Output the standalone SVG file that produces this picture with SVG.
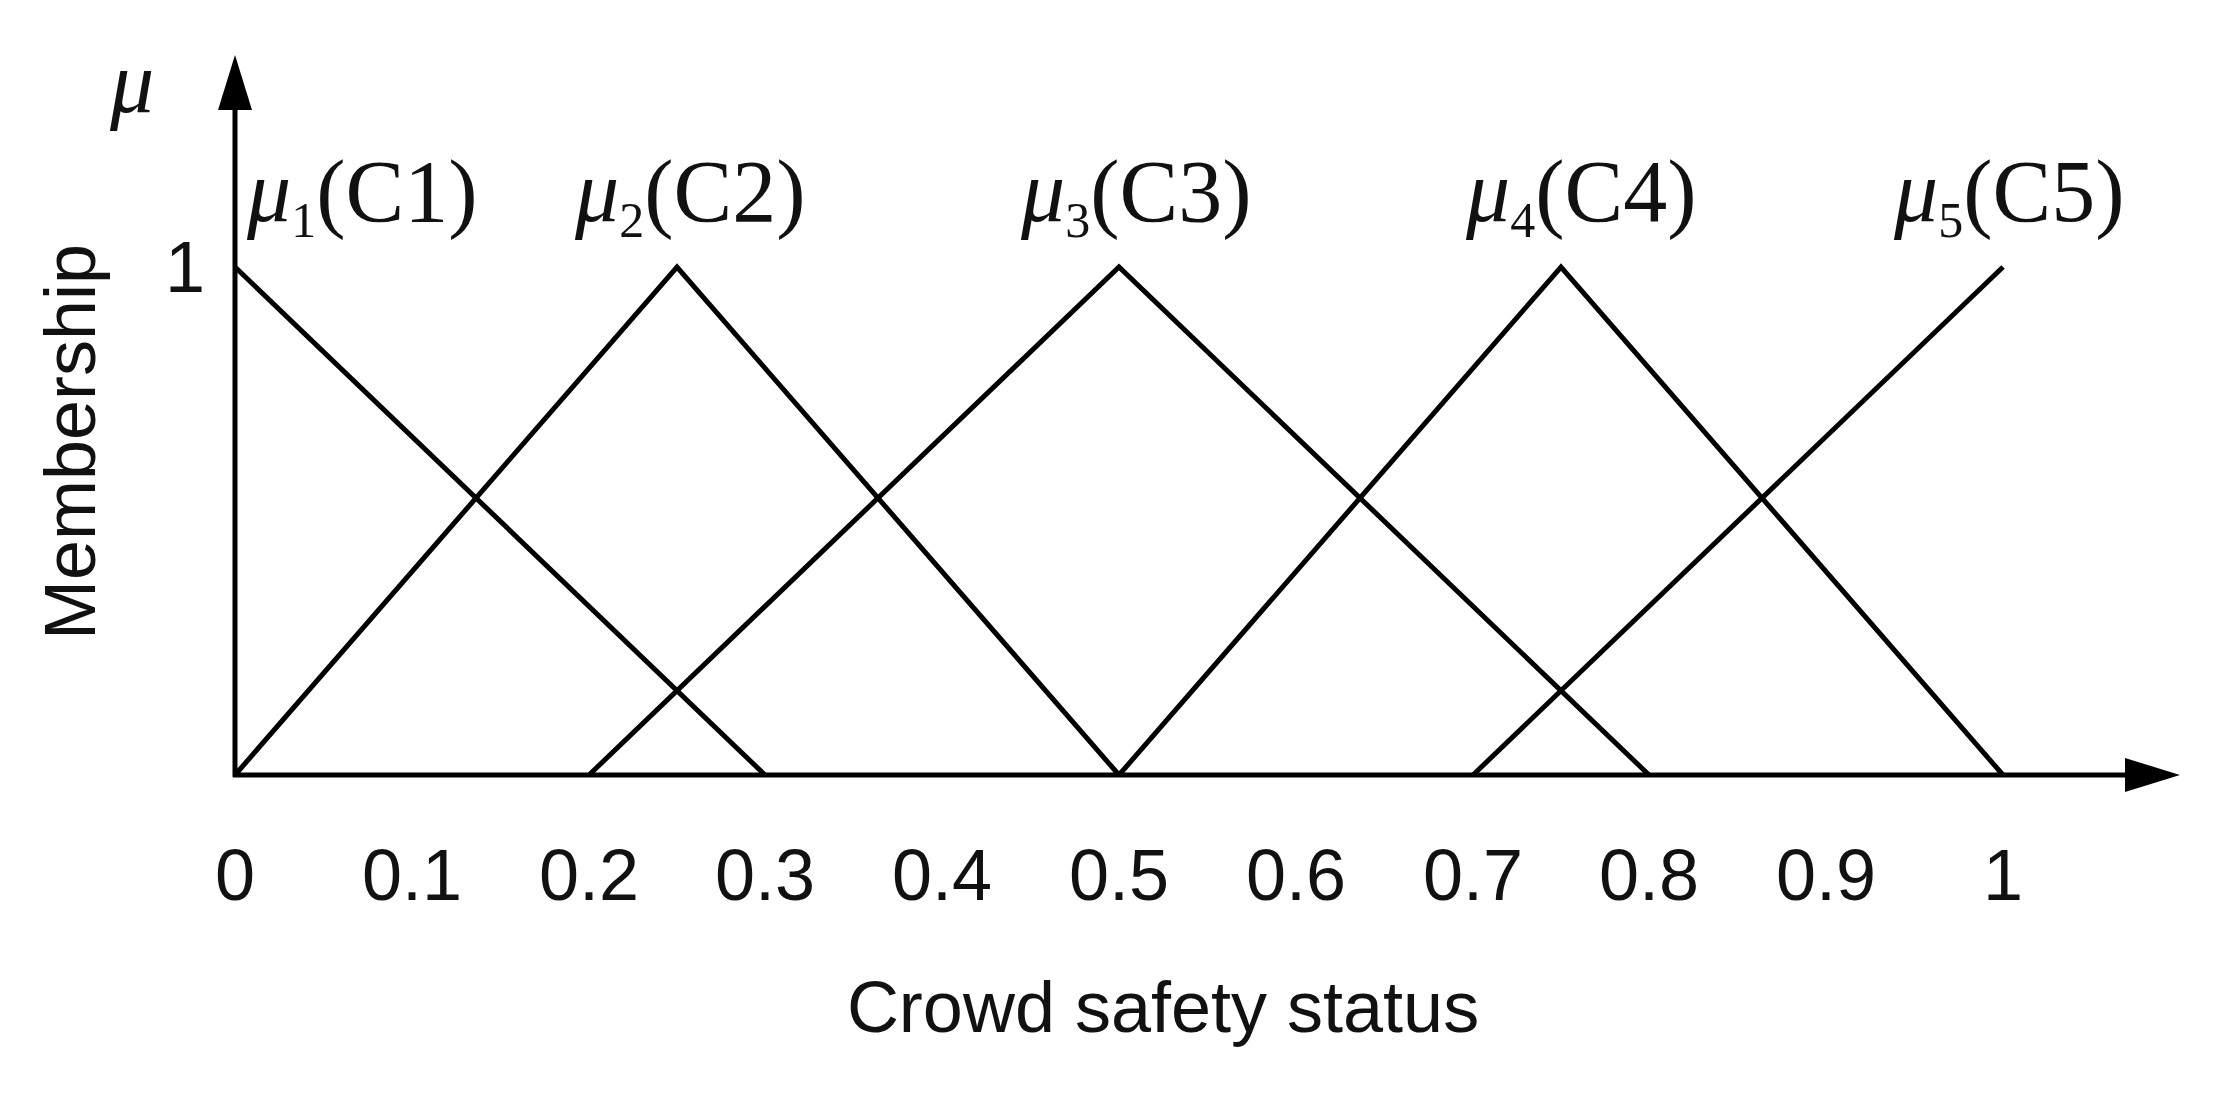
<svg xmlns="http://www.w3.org/2000/svg" width="2235" height="1096" viewBox="0 0 2235 1096">
<style>
.l{stroke:#000;stroke-width:5;fill:none}
.t{font-family:"Liberation Sans",Arial,sans-serif;font-size:72px;fill:#111}
.s{font-family:"Liberation Serif","Times New Roman",serif;font-size:88px;fill:#111}
.m{font-style:italic}
</style>
<rect width="2235" height="1096" fill="#fff"/>
<g id="axes">
<line class="l" x1="235" y1="777" x2="235" y2="100"/>
<polygon points="235,55 218,110 252,110" fill="#000"/>
<line class="l" x1="233" y1="775" x2="2130" y2="775"/>
<polygon points="2180,775 2125,758 2125,792" fill="#000"/>
</g>
<g id="connectors">
<polyline class="l" points="235,267 765,775"/>
<polyline class="l" points="235,775 677,267 1119,775"/>
<polyline class="l" points="589,775 1119,267 1649,775"/>
<polyline class="l" points="1119,775 1561,267 2003,775"/>
<polyline class="l" points="1473,775 2003,267"/>
</g>
<g id="labels">
<text class="s m" x="110" y="112" font-size="135">μ</text>
<text class="t" x="185" y="292" text-anchor="middle">1</text>
<text class="t" transform="translate(95,442) rotate(-90)" text-anchor="middle" font-size="76">Membership</text>
<text class="s" x="247" y="221"><tspan class="m">μ</tspan><tspan font-size="50" dy="16">1</tspan><tspan dy="-16">(C1)</tspan></text>
<text class="s" x="575" y="221"><tspan class="m">μ</tspan><tspan font-size="50" dy="16">2</tspan><tspan dy="-16">(C2)</tspan></text>
<text class="s" x="1021" y="221"><tspan class="m">μ</tspan><tspan font-size="50" dy="16">3</tspan><tspan dy="-16">(C3)</tspan></text>
<text class="s" x="1466" y="221"><tspan class="m">μ</tspan><tspan font-size="50" dy="16">4</tspan><tspan dy="-16">(C4)</tspan></text>
<text class="s" x="1894" y="221"><tspan class="m">μ</tspan><tspan font-size="50" dy="16">5</tspan><tspan dy="-16">(C5)</tspan></text>
<g text-anchor="middle">
<text class="t" x="235" y="900">0</text>
<text class="t" x="412" y="900">0.1</text>
<text class="t" x="589" y="900">0.2</text>
<text class="t" x="765" y="900">0.3</text>
<text class="t" x="942" y="900">0.4</text>
<text class="t" x="1119" y="900">0.5</text>
<text class="t" x="1296" y="900">0.6</text>
<text class="t" x="1473" y="900">0.7</text>
<text class="t" x="1649" y="900">0.8</text>
<text class="t" x="1826" y="900">0.9</text>
<text class="t" x="2003" y="900">1</text>
<text class="t" x="1163" y="1032">Crowd safety status</text>
</g>
</g>
</svg>
